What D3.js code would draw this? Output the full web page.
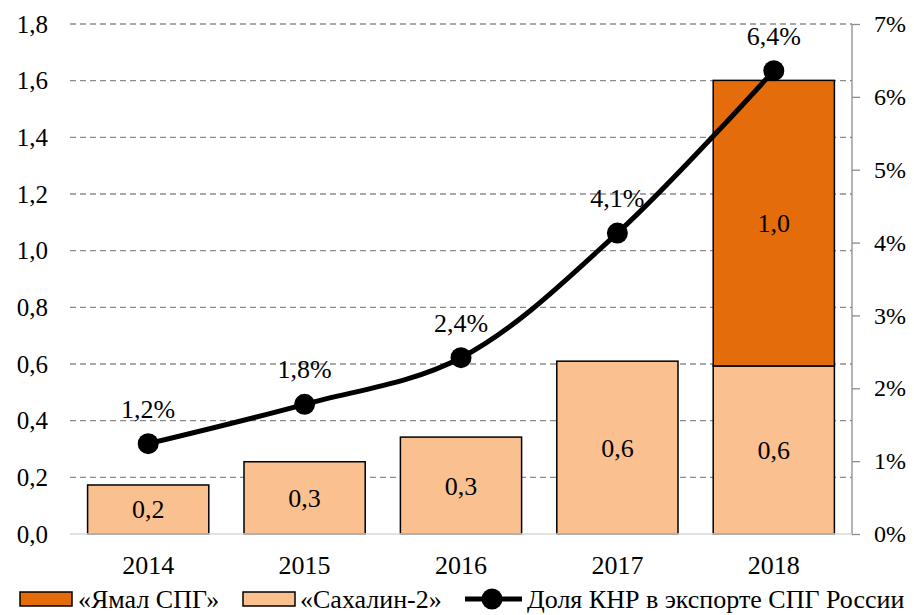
<!DOCTYPE html>
<html>
<head>
<meta charset="utf-8">
<script src="https://cdn.jsdelivr.net/npm/d3@7"></script>
<style>
  body { margin: 0; background: #fff; }
</style>
</head>
<body>
<div id="chart"></div>
<script>
// Data
const years = ["2014", "2015", "2016", "2017", "2018"];
const sakhalin = [0.173, 0.255, 0.342, 0.61, 0.593];
const yamal = [0, 0, 0, 0, 1.008];
const sakhalinLabels = ["0,2", "0,3", "0,3", "0,6", "0,6"];
const yamalLabels = ["", "", "", "", "1,0"];
const share = [1.24, 1.78, 2.42, 4.13, 6.36];
const shareLabels = ["1,2%", "1,8%", "2,4%", "4,1%", "6,4%"];
const leftTicks = [0, 0.2, 0.4, 0.6, 0.8, 1.0, 1.2, 1.4, 1.6, 1.8];
const rightTicks = [0, 1, 2, 3, 4, 5, 6, 7];

const FONT = "'Liberation Serif'";
const W = 914, H = 615;
const margin = {top: 24, right: 62, bottom: 81, left: 70};
const w = W - margin.left - margin.right;
const h = H - margin.top - margin.bottom;

const svg = d3.select("#chart").append("svg")
  .attr("width", W).attr("height", H);
const g = svg.append("g")
  .attr("transform", "translate(" + margin.left + "," + margin.top + ")");

const x = d3.scaleBand().domain(years).range([0, w]).paddingInner(0.225).paddingOuter(0.1125);
const y = d3.scaleLinear().domain([0, 1.8]).range([h, 0]);
const y2 = d3.scaleLinear().domain([0, 7]).range([h, 0]);

const fmt = d3.format(".1f");
const comma = function(v) { return fmt(v).replace(".", ","); };

// Gridlines
g.selectAll(".grid").data(leftTicks.filter(function(d) { return d > 0; }))
  .enter().append("line")
  .attr("x1", 0).attr("x2", w)
  .attr("y1", function(d) { return y(d); })
  .attr("y2", function(d) { return y(d); })
  .attr("stroke", "#8c8c8c").attr("stroke-width", 1.3)
  .attr("stroke-dasharray", "6,4");

// Left axis
const yAxis = d3.axisLeft(y).tickValues(leftTicks).tickFormat(comma).tickSize(0).tickPadding(22);
const ya = g.append("g").call(yAxis);
ya.select(".domain").remove();
ya.selectAll("text").style("font-size", "25px").attr("fill", "#000");

// Right axis
const yAxis2 = d3.axisRight(y2).tickValues(rightTicks)
  .tickFormat(function(d) { return d + "%"; }).tickSize(8).tickPadding(14);
const ya2 = g.append("g").attr("transform", "translate(" + w + ",0)").call(yAxis2);
ya2.select(".domain").attr("stroke", "#8c8c8c").attr("stroke-width", 1.3).attr("d", "M0,0V" + h);
ya2.selectAll("line").attr("stroke", "#8c8c8c").attr("stroke-width", 1.3);
ya2.selectAll("text").style("font-size", "24px").attr("fill", "#000");

// Bars
const bw = x.bandwidth();
g.selectAll(".sak").data(years).enter().append("rect")
  .attr("x", function(d) { return x(d); })
  .attr("y", function(d, i) { return y(sakhalin[i]); })
  .attr("width", bw)
  .attr("height", function(d, i) { return h - y(sakhalin[i]); })
  .attr("fill", "#FAC090").attr("stroke", "#000").attr("stroke-width", 1.5);

g.selectAll(".yam").data(years.filter(function(d, i) { return yamal[i] > 0; }))
  .enter().append("rect")
  .attr("x", function(d) { return x(d); })
  .attr("y", function(d) { const i = years.indexOf(d); return y(sakhalin[i] + yamal[i]); })
  .attr("width", bw)
  .attr("height", function(d) { const i = years.indexOf(d); return y(sakhalin[i]) - y(sakhalin[i] + yamal[i]); })
  .attr("fill", "#E46C0A").attr("stroke", "#000").attr("stroke-width", 1.5);

// Bottom axis line
g.append("line").attr("x1", 0).attr("x2", w).attr("y1", h).attr("y2", h)
  .attr("stroke", "#d9d9d9").attr("stroke-width", 1.5);

// Bar labels
g.selectAll(".sl").data(years).enter().append("text")
  .attr("x", function(d) { return x(d) + bw / 2; })
  .attr("y", function(d, i) { return (y(sakhalin[i]) + h) / 2 + 9; })
  .attr("text-anchor", "middle").style("font-size", "26px")
  .text(function(d, i) { return sakhalinLabels[i]; });

g.selectAll(".yl").data(years).enter().append("text")
  .attr("x", function(d) { return x(d) + bw / 2; })
  .attr("y", function(d, i) { return (y(sakhalin[i]) + y(sakhalin[i] + yamal[i])) / 2 + 9; })
  .attr("text-anchor", "middle").style("font-size", "26px")
  .text(function(d, i) { return yamalLabels[i]; });

// X labels
g.selectAll(".xl").data(years).enter().append("text")
  .attr("x", function(d) { return x(d) + bw / 2; })
  .attr("y", h + 40)
  .attr("text-anchor", "middle").style("font-size", "26px")
  .text(function(d) { return d; });

// Share line
const line = d3.line()
  .x(function(d, i) { return x(years[i]) + bw / 2; })
  .y(function(d) { return y2(d); })
  .curve(d3.curveCatmullRom);
g.append("path").datum(share).attr("d", line)
  .attr("fill", "none").attr("stroke", "#000").attr("stroke-width", 5);
g.selectAll(".pt").data(share).enter().append("circle")
  .attr("cx", function(d, i) { return x(years[i]) + bw / 2; })
  .attr("cy", function(d) { return y2(d); })
  .attr("r", 10.5).attr("fill", "#000");
g.selectAll(".pl").data(share).enter().append("text")
  .attr("x", function(d, i) { return x(years[i]) + bw / 2; })
  .attr("y", function(d) { return y2(d) - 26; })
  .attr("text-anchor", "middle").style("font-size", "26px")
  .text(function(d, i) { return shareLabels[i]; });

// Legend
const lg = svg.append("g").attr("transform", "translate(0,599)");
lg.append("rect").attr("x", 20).attr("y", -7).attr("width", 52).attr("height", 14)
  .attr("fill", "#E46C0A").attr("stroke", "#000").attr("stroke-width", 1.5);
lg.append("text").attr("x", 78).attr("y", 9).style("font-size", "26px").text("«Ямал СПГ»");
lg.append("rect").attr("x", 243).attr("y", -7).attr("width", 52).attr("height", 14)
  .attr("fill", "#FAC090").attr("stroke", "#000").attr("stroke-width", 1.5);
lg.append("text").attr("x", 300).attr("y", 9).style("font-size", "26px").text("«Сахалин-2»");
lg.append("line").attr("x1", 465).attr("x2", 522).attr("y1", 0).attr("y2", 0)
  .attr("stroke", "#000").attr("stroke-width", 5);
lg.append("circle").attr("cx", 492).attr("cy", 0).attr("r", 10.5).attr("fill", "#000");
lg.append("text").attr("x", 527).attr("y", 9).style("font-size", "26px").text("Доля КНР в экспорте СПГ России");

// Same serif face for every label
svg.selectAll("text").style("font-family", FONT);
</script>
</body>
</html>
